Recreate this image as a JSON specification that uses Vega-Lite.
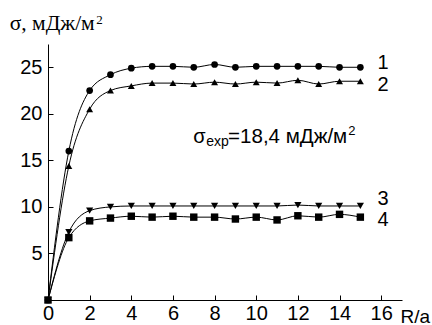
{
  "$schema": "https://vega.github.io/schema/vega-lite/v6.json",
  "width": 354,
  "height": 256,
  "autosize": {"type": "none"},
  "padding": {"left": 48, "top": 44, "right": 30, "bottom": 25},
  "background": "white",
  "config": {"view": {"stroke": null}, "font": "Liberation Sans"},
  "datasets": {
    "pts": [
      {"s":"1","x":0,"y":0},{"s":"1","x":1,"y":16.0},{"s":"1","x":2,"y":22.5},{"s":"1","x":3,"y":24.2},{"s":"1","x":4,"y":24.9},{"s":"1","x":5,"y":25.1},{"s":"1","x":6,"y":25.1},{"s":"1","x":7,"y":25.0},{"s":"1","x":8,"y":25.3},{"s":"1","x":9,"y":25.0},{"s":"1","x":10,"y":25.1},{"s":"1","x":11,"y":25.1},{"s":"1","x":12,"y":25.1},{"s":"1","x":13,"y":25.1},{"s":"1","x":14,"y":25.0},{"s":"1","x":15,"y":25.0},
      {"s":"2","x":0,"y":0},{"s":"2","x":1,"y":14.4},{"s":"2","x":2,"y":20.5},{"s":"2","x":3,"y":22.5},{"s":"2","x":4,"y":23.0},{"s":"2","x":5,"y":23.3},{"s":"2","x":6,"y":23.3},{"s":"2","x":7,"y":23.2},{"s":"2","x":8,"y":23.4},{"s":"2","x":9,"y":23.2},{"s":"2","x":10,"y":23.4},{"s":"2","x":11,"y":23.3},{"s":"2","x":12,"y":23.6},{"s":"2","x":13,"y":23.2},{"s":"2","x":14,"y":23.5},{"s":"2","x":15,"y":23.5},
      {"s":"3","x":0,"y":0},{"s":"3","x":1,"y":7.3},{"s":"3","x":2,"y":9.6},{"s":"3","x":3,"y":10.0},{"s":"3","x":4,"y":10.1},{"s":"3","x":5,"y":10.1},{"s":"3","x":6,"y":10.1},{"s":"3","x":7,"y":10.1},{"s":"3","x":8,"y":10.1},{"s":"3","x":9,"y":10.1},{"s":"3","x":10,"y":10.1},{"s":"3","x":11,"y":10.1},{"s":"3","x":12,"y":10.2},{"s":"3","x":13,"y":10.1},{"s":"3","x":14,"y":10.1},{"s":"3","x":15,"y":10.1},
      {"s":"4","x":0,"y":0},{"s":"4","x":1,"y":6.7},{"s":"4","x":2,"y":8.5},{"s":"4","x":3,"y":8.8},{"s":"4","x":4,"y":9.0},{"s":"4","x":5,"y":8.9},{"s":"4","x":6,"y":9.0},{"s":"4","x":7,"y":8.9},{"s":"4","x":8,"y":8.9},{"s":"4","x":9,"y":8.7},{"s":"4","x":10,"y":8.9},{"s":"4","x":11,"y":8.6},{"s":"4","x":12,"y":9.05},{"s":"4","x":13,"y":8.9},{"s":"4","x":14,"y":9.2},{"s":"4","x":15,"y":8.9}
    ]
  },
  "layer": [
    {
      "data": {"name": "pts"},
      "mark": {"type": "line", "interpolate": "monotone", "color": "black", "strokeWidth": 1},
      "encoding": {
        "x": {
          "field": "x", "type": "quantitative",
          "scale": {"domain": [0, 17], "nice": false, "zero": false},
          "axis": {
            "values": [0,1,2,3,4,5,6,7,8,9,10,11,12,13,14,15,16,17],
            "labelExpr": "datum.value % 2 == 0 && datum.value <= 16 ? datum.label : ''",
            "grid": false, "domainColor": "black", "domainWidth": 1, "tickColor": "black",
            "tickSize": {"condition": {"test": "datum.value % 2 == 0", "value": -5}, "value": -3},
            "labelFontSize": 20, "labelColor": "black", "labelFont": "Liberation Sans", "labelPadding": 8,
            "labelFlush": false, "labelOverlap": false,
            "title": "R/a", "titleFontSize": 19, "titleFontWeight": "normal", "titleFont": "Liberation Sans", "titleColor": "black",
            "titleX": 352, "titleY": 22, "titleAlign": "left", "titleBaseline": "alphabetic", "titleAnchor": null
          }
        },
        "y": {
          "field": "y", "type": "quantitative",
          "scale": {"domain": [0, 27.5], "nice": false, "zero": false},
          "axis": {
            "values": [0,2.5,5,7.5,10,12.5,15,17.5,20,22.5,25,27.5],
            "labelExpr": "datum.value % 5 == 0 && datum.value > 0 && datum.value < 27 ? datum.label : ''",
            "grid": false, "domainColor": "black", "domainWidth": 1, "tickColor": "black",
            "tickSize": {"condition": {"test": "datum.value % 5 == 0", "value": -5}, "value": -3},
            "labelFontSize": 20, "labelColor": "black", "labelFont": "Liberation Sans", "labelPadding": 11,
            "labelFlush": false, "labelOverlap": false,
            "title": null
          }
        },
        "detail": {"field": "s"}
      }
    },
    {
      "data": {"name": "pts"},
      "mark": {"type": "point", "filled": true, "color": "black", "opacity": 1},
      "encoding": {
        "x": {"field": "x", "type": "quantitative"},
        "y": {"field": "y", "type": "quantitative"},
        "shape": {"field": "s", "type": "nominal", "scale": {"domain": ["1","2","3","4"], "range": ["circle","triangle-up","triangle-down","square"]}, "legend": null},
        "size": {"field": "s", "type": "nominal", "scale": {"domain": ["1","2","3","4"], "range": [45, 55, 55, 42]}, "legend": null}
      }
    },
    {"data": {"values": [{}]}, "mark": {"type": "text", "text": "σ, мДж/м", "fontSize": 21.5, "font": "Liberation Serif", "align": "left", "baseline": "alphabetic", "color": "black"},
     "encoding": {"x": {"datum": -1.84}, "y": {"datum": 29.0}}},
    {"data": {"values": [{}]}, "mark": {"type": "text", "text": "2", "fontSize": 13, "font": "Liberation Serif", "align": "left", "baseline": "alphabetic", "color": "black"},
     "encoding": {"x": {"datum": 2.32}, "y": {"datum": 29.6}}},
    {"data": {"values": [{}]}, "mark": {"type": "text", "text": "1", "fontSize": 20, "font": "Liberation Sans", "align": "left", "baseline": "alphabetic", "color": "black"},
     "encoding": {"x": {"datum": 15.82}, "y": {"datum": 24.78}}},
    {"data": {"values": [{}]}, "mark": {"type": "text", "text": "2", "fontSize": 20, "font": "Liberation Sans", "align": "left", "baseline": "alphabetic", "color": "black"},
     "encoding": {"x": {"datum": 15.82}, "y": {"datum": 22.46}}},
    {"data": {"values": [{}]}, "mark": {"type": "text", "text": "3", "fontSize": 20, "font": "Liberation Sans", "align": "left", "baseline": "alphabetic", "color": "black"},
     "encoding": {"x": {"datum": 15.82}, "y": {"datum": 10.24}}},
    {"data": {"values": [{}]}, "mark": {"type": "text", "text": "4", "fontSize": 20, "font": "Liberation Sans", "align": "left", "baseline": "alphabetic", "color": "black"},
     "encoding": {"x": {"datum": 15.82}, "y": {"datum": 7.94}}},
    {"data": {"values": [{}]}, "mark": {"type": "text", "text": "σ", "fontSize": 20, "font": "Liberation Sans", "align": "left", "baseline": "alphabetic", "color": "black"},
     "encoding": {"x": {"datum": 6.97}, "y": {"datum": 16.9}}},
    {"data": {"values": [{}]}, "mark": {"type": "text", "text": "exp", "fontSize": 14, "font": "Liberation Sans", "align": "left", "baseline": "alphabetic", "color": "black"},
     "encoding": {"x": {"datum": 7.6}, "y": {"datum": 16.55}}},
    {"data": {"values": [{}]}, "mark": {"type": "text", "text": "=18,4 мДж/м", "fontSize": 20.5, "font": "Liberation Sans", "align": "left", "baseline": "alphabetic", "color": "black"},
     "encoding": {"x": {"datum": 8.65}, "y": {"datum": 16.85}}},
    {"data": {"values": [{}]}, "mark": {"type": "text", "text": "2", "fontSize": 13, "font": "Liberation Sans", "align": "left", "baseline": "alphabetic", "color": "black"},
     "encoding": {"x": {"datum": 14.42}, "y": {"datum": 17.75}}}
  ]
}
